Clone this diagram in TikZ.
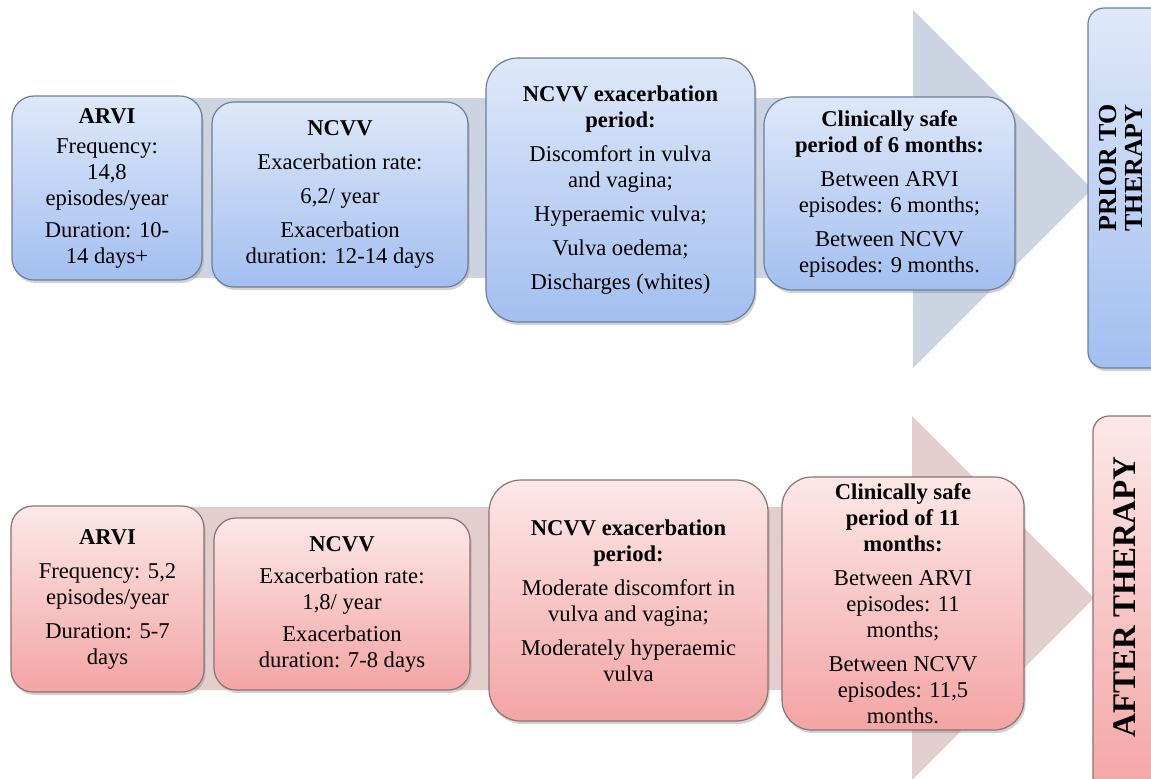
\documentclass[tikz,border=0pt]{standalone}
\usepackage{fontspec}
\setmainfont{Liberation Serif}
\usetikzlibrary{shadows}

\definecolor{bluetop}{HTML}{DEE8F9}
\definecolor{bluebottom}{HTML}{A3BFF0}
\definecolor{blueborder}{HTML}{6E7E9A}
\definecolor{blueband}{HTML}{CCD3E1}
\definecolor{pinktop}{HTML}{FCE8E8}
\definecolor{pinkbottom}{HTML}{F4A4A4}
\definecolor{pinkborder}{HTML}{8C7272}
\definecolor{pinkband}{HTML}{E4CDCD}

\tikzset{
  stage/.style={draw=#1border, line width=0.6pt, rounded corners=11pt,
    top color=#1top, bottom color=#1bottom, align=center, inner sep=2pt,
    font=\fontsize{11.3}{13}\selectfont,
    drop shadow={shadow xshift=0.8pt, shadow yshift=-1.5pt, opacity=0.35}},
  sidelabel/.style={rotate=90, align=center, font=\bfseries\fontsize{#1}{#1}\selectfont}
}

\begin{document}
\begin{tikzpicture}[x=0.5pt, y=-0.5pt]
            \clip (0,0) rectangle (1151,778);
            \fill[white] (0,0) rectangle (1151,778);

            % big arrows behind the boxes
            \fill[blueband] (30,98) -- (913,98) -- (913,10) -- (1092,189) -- (913,368) -- (913,278) -- (30,278) -- cycle;
            \fill[pinkband] (30,507) -- (912,507) -- (912,416) -- (1094,598) -- (912,780) -- (912,690) -- (30,690) -- cycle;

            % before therapy
            \node[stage=blue, minimum width=95pt, minimum height=92pt] (arvitop) at (107,188)
                {\textbf{ARVI}\\[2pt]Frequency:\\14,8\\episodes/year\\[3pt]Duration: 10-\\14 days+};
            \node[stage=blue, minimum width=128pt, minimum height=92.5pt] (ncvvtop) at (340,194.5)
                {\textbf{NCVV}\\[4pt]Exacerbation rate:\\[4pt]6,2/ year\\[4pt]Exacerbation\\duration: 12-14 days};
            \node[stage=blue, rounded corners=16pt, minimum width=134.5pt, minimum height=132pt] (exactop) at (620.5,190)
                {\textbf{NCVV exacerbation}\\\textbf{period:}\\[4pt]Discomfort in vulva\\and vagina;\\[4pt]Hyperaemic vulva;\\[4pt]Vulva oedema;\\[4pt]Discharges (whites)};
            \node[stage=blue, rounded corners=14pt, minimum width=125.5pt, minimum height=96.5pt] (safetop) at (889.5,193.5)
                {\textbf{Clinically safe}\\\textbf{period of 6 months:}\\[4pt]Between ARVI\\episodes: 6 months;\\[4pt]Between NCVV\\episodes: 9 months.};
            \node[stage=blue, rounded corners=8pt, minimum width=41pt, minimum height=180pt] (prior) at (1129,188) {};
            \node[sidelabel=13] (priortext) at (1121,168) {PRIOR TO\\THERAPY};

            % after therapy
            \node[stage=pink, minimum width=96.5pt, minimum height=93pt] (arvibot) at (107.5,599)
                {\textbf{ARVI}\\[4pt]Frequency: 5,2\\episodes/year\\[4pt]Duration: 5-7\\days};
            \node[stage=pink, minimum width=128pt, minimum height=86pt] (ncvvbot) at (342,604)
                {\textbf{NCVV}\\[3pt]Exacerbation rate:\\1,8/ year\\[3pt]Exacerbation\\duration: 7-8 days};
            \node[stage=pink, rounded corners=16pt, minimum width=139.5pt, minimum height=120.5pt] (exacbot) at (628.5,600.5)
                {\textbf{NCVV exacerbation}\\\textbf{period:}\\[4pt]Moderate discomfort in\\vulva and vagina;\\[4pt]Moderately hyperaemic\\vulva};
            \node[stage=pink, rounded corners=15pt, minimum width=121pt, minimum height=126.5pt] (safebot) at (903,603.5)
                {\textbf{Clinically safe}\\\textbf{period of 11}\\\textbf{months:}\\[4pt]Between ARVI\\episodes: 11\\months;\\[4pt]Between NCVV\\episodes: 11,5\\months.};
            \node[stage=pink, rounded corners=8pt, minimum width=39pt, minimum height=192pt] (after) at (1132,608) {};
            \node[sidelabel=16.5] (aftertext) at (1125,597) {AFTER THERAPY};
\end{tikzpicture}
\end{document}
